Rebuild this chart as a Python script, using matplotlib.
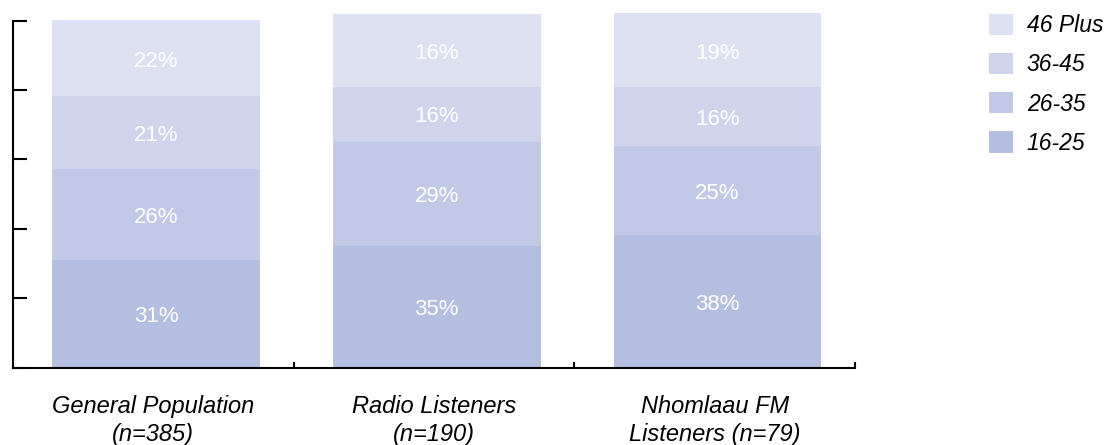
import matplotlib
matplotlib.use("Agg")
import matplotlib.pyplot as plt
import numpy as np
from matplotlib.patches import Patch


CATEGORIES = ["General Population\n(n=385)", "Radio Listeners\n(n=190)", "Nhomlaau FM\nListeners (n=79)"]
AGE_GROUPS = ["16-25", "26-35", "36-45", "46 Plus"]

# segment heights as drawn in the chart (bottom -> top)
AGE_16_25 = [31.0, 35.1, 38.2]
AGE_26_35 = [26.2, 30.0, 25.6]
AGE_36_45 = [21.0, 15.9, 17.0]
AGE_46_PLUS = [21.9, 20.8, 21.3]

# printed labels
LABELS_16_25 = ["31%", "35%", "38%"]
LABELS_26_35 = ["26%", "29%", "25%"]
LABELS_36_45 = ["21%", "16%", "16%"]
LABELS_46_PLUS = ["22%", "16%", "19%"]

COLORS = ["#b4bee1", "#c1c9e7", "#cfd4ec", "#dee1f2"]

FONT = ["Liberation Sans", "DejaVu Sans"]


def main():
    plt.rcParams["font.family"] = FONT
    fig = plt.figure(figsize=(11.08, 4.45), dpi=100)
    ax = fig.add_axes([0.01173, 0.1737, 0.7600, 0.811])

    series = [AGE_16_25, AGE_26_35, AGE_36_45, AGE_46_PLUS]
    labels = [LABELS_16_25, LABELS_26_35, LABELS_36_45, LABELS_46_PLUS]
    x = np.arange(len(CATEGORIES))
    bottom = np.zeros(len(CATEGORIES))

    for values, texts, color, name in zip(series, labels, COLORS, AGE_GROUPS):
        values = np.asarray(values)
        ax.bar(x + 0.01, values, width=0.74, bottom=bottom, color=color, label=name, zorder=1)
        for xi, b, v, t in zip(x, bottom, values, texts):
            ax.text(xi + 0.01, b + v / 2 - 0.8, t, ha="center", va="center",
                    color="white", fontsize=16)
        bottom += values

    ax.set_xlim(-0.5, 2.5)
    ax.set_ylim(0, 104)

    for side in ["top", "right"]:
        ax.spines[side].set_visible(False)
    ax.spines["left"].set_bounds(0, 100)
    ax.spines["left"].set_linewidth(1.5)
    ax.spines["bottom"].set_linewidth(1.5)

    ax.set_yticks([0, 20, 40, 60, 80, 100])
    ax.set_yticklabels([])
    ax.tick_params(axis="y", direction="in", length=10, width=1.5)

    ax.set_xticks([0.5, 1.5, 2.5])
    ax.set_xticklabels([])
    ax.tick_params(axis="x", direction="in", length=4.5, width=1.5)

    for xi, cat in zip(x, CATEGORIES):
        ax.text(xi, -8.0, cat, ha="center", va="top", fontsize=17,
                style="italic", linespacing=1.25, transform=ax.transData)

    handles = [Patch(facecolor=c, edgecolor="none") for c in COLORS]
    fig.legend(handles[::-1], AGE_GROUPS[::-1], loc="upper left",
               bbox_to_anchor=(0.8844, 0.99), frameon=False,
               prop={"size": 16.5, "style": "italic"},
               handlelength=1.05, handleheight=1.05,
               handletextpad=0.6, labelspacing=0.69, borderaxespad=0)

    fig.savefig("out.png", dpi=100)
    plt.close(fig)


if __name__ == "__main__":
    main()
